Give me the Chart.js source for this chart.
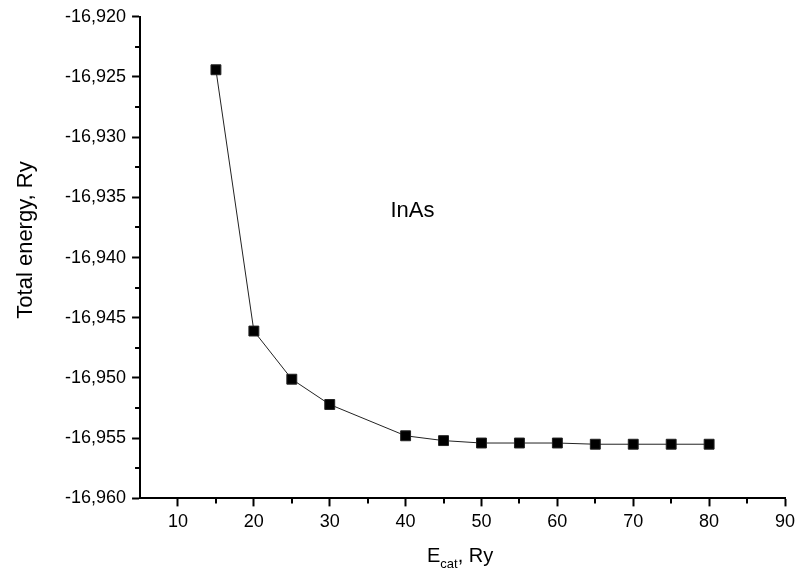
<!DOCTYPE html>
<html>
<head>
<meta charset="utf-8">
<script src="https://cdn.jsdelivr.net/npm/chart.js@4/dist/chart.umd.min.js"></script>
<style>
  html, body { margin: 0; padding: 0; background: #fff; }
  #wrap { width: 797px; height: 572px; }
</style>
</head>
<body>
<div id="wrap"><canvas id="energy-chart"></canvas></div>
<script>
// cutoff energy, Ry
const ecut = [15, 20, 25, 30, 40, 45, 50, 55, 60, 65, 70, 75, 80];
// total energy, Ry
const totalEnergy = [-16.9244, -16.9461, -16.9501, -16.9522, -16.9548, -16.9552, -16.9554,
    -16.9554, -16.9554, -16.9555, -16.9555, -16.9555, -16.9555];
const xTicks = [10, 20, 30, 40, 50, 60, 70, 80, 90];
const xMinor = [15, 25, 35, 45, 55, 65, 75, 85];
const yTicks = [-16.960, -16.955, -16.950, -16.945, -16.940, -16.935, -16.930, -16.925, -16.920];
const yMinor = [-16.9575, -16.9525, -16.9475, -16.9425, -16.9375, -16.9325, -16.9275, -16.9225];
const label = 'InAs';

const font = 'Liberation Sans, Arial, sans-serif';

// minor ticks, axis titles (x title has a subscript) and the sample label
const extraText = {
    id: 'extraText',
    afterDraw(chart) {
        const ctx = chart.ctx;
        const xs = chart.scales.x, ys = chart.scales.y;
        ctx.save();
        ctx.strokeStyle = '#000';
        ctx.lineWidth = 2;
        ctx.beginPath();
        xMinor.forEach(v => {
            const px = Math.round(xs.getPixelForValue(v));
            ctx.moveTo(px, xs.top); ctx.lineTo(px, xs.top + 5);
        });
        yMinor.forEach(v => {
            const py = Math.round(ys.getPixelForValue(v));
            ctx.moveTo(ys.right, py); ctx.lineTo(ys.right - 5, py);
        });
        ctx.stroke();

        ctx.fillStyle = '#000';
        ctx.textBaseline = 'alphabetic';
        ctx.font = '22px ' + font;
        ctx.textAlign = 'left';
        ctx.fillText(label, xs.getPixelForValue(38), ys.getPixelForValue(-16.9366));

        // y title
        ctx.save();
        ctx.translate(32, 240);
        ctx.rotate(-Math.PI / 2);
        ctx.textAlign = 'center';
        ctx.font = '22px ' + font;
        ctx.fillText('Total energy, Ry', 0, 0);
        ctx.restore();

        // E_cat, Ry
        const base = 562;
        ctx.font = '20px ' + font;
        const wE = ctx.measureText('E').width;
        ctx.font = '13px ' + font;
        const wS = ctx.measureText('cat').width;
        let x0 = 427;
        ctx.font = '20px ' + font;
        ctx.fillText('E', x0, base);
        ctx.font = '13px ' + font;
        ctx.fillText('cat', x0 + wE, base + 6);
        ctx.font = '20px ' + font;
        ctx.fillText(', Ry', x0 + wE + wS, base);
        ctx.restore();
    }
};

new Chart(document.getElementById('energy-chart'), {
    type: 'scatter',
    data: {
        datasets: [{
            label: label,
            data: ecut.map((e, i) => ({x: e, y: totalEnergy[i]})),
            showLine: true,
            borderColor: '#222',
            borderWidth: 1,
            backgroundColor: '#000',
            pointStyle: 'rect',
            pointRadius: 7,
            pointHoverRadius: 7
        }]
    },
    options: {
        responsive: true,
        maintainAspectRatio: false,
        animation: false,
        layout: {padding: {top: 14, right: 0, bottom: 34, left: 59}},
        plugins: {legend: {display: false}, tooltip: {enabled: false}},
        scales: {
            x: {
                type: 'linear', min: 5, max: 90,
                border: {color: '#000', width: 2},
                grid: {drawOnChartArea: false, drawTicks: true, tickLength: 8, tickColor: '#000', tickWidth: 2},
                afterBuildTicks: (s) => { s.ticks = xTicks.map(v => ({value: v})); },
                afterFit: (s) => { s.paddingRight = 12; },
                ticks: {color: '#000', font: {family: font, size: 18}, padding: 5, maxRotation: 0, autoSkip: false}
            },
            y: {
                type: 'linear', min: -16.960, max: -16.920,
                border: {color: '#000', width: 2},
                grid: {drawOnChartArea: false, drawTicks: true, tickLength: 8, tickColor: '#000', tickWidth: 2},
                afterBuildTicks: (s) => { s.ticks = yTicks.map(v => ({value: v})); },
                ticks: {
                    color: '#000', font: {family: font, size: 18}, padding: 6, autoSkip: false,
                    callback: (v) => v.toFixed(3).replace('.', ',')
                }
            }
        }
    },
    plugins: [extraText]
});
</script>
</body>
</html>
